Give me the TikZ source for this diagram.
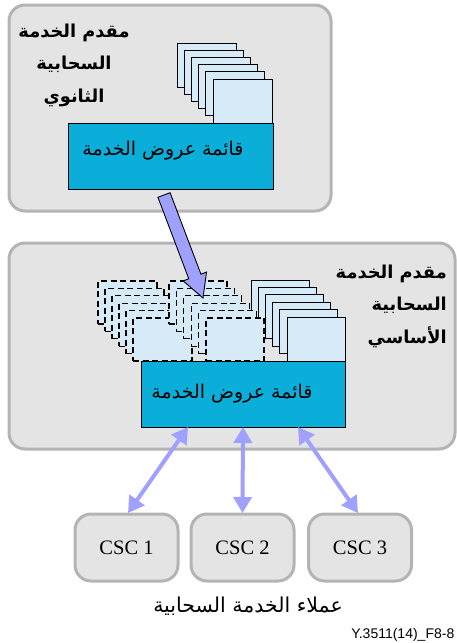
\documentclass[tikz,border=0pt]{standalone}
\usepackage{fontspec}
\setmainfont{Liberation Serif}
\newfontfamily\arabicfont[Script=Arabic]{DejaVu Sans}
\newfontfamily\codefont{Liberation Sans}
\TeXXeTstate=1
\usetikzlibrary{calc,arrows.meta}

\definecolor{panelfill}{HTML}{E4E4E4}
\definecolor{panelline}{HTML}{B4B4B4}
\definecolor{listblue}{HTML}{0BAED9}
\definecolor{pagefill}{HTML}{D6EAF8}
\definecolor{flowblue}{HTML}{A0A0FF}

\tikzset{
  panel/.style={draw=panelline, fill=panelfill, line width=3pt, rounded corners=16pt,
    inner sep=0pt, outer sep=0pt},
  listbox/.style={draw=black, fill=listblue, line width=1pt, inner sep=0pt, outer sep=0pt,
    minimum width=205pt, minimum height=66pt},
  page/.style={draw=black, fill=pagefill, line width=1pt, inner sep=0pt, outer sep=0pt,
    minimum width=59pt, minimum height=44pt, anchor=north west},
  ghostpage/.style={page, line width=1.3pt, dash pattern=on 6pt off 3.5pt, minimum height=43pt},
  client/.style={panel, minimum width=103pt, minimum height=67pt,
    font=\fontsize{20.5}{24}\selectfont},
  link/.style={draw=flowblue, line width=4pt,
    {Triangle[width=18pt,length=16pt]}-{Triangle[width=18pt,length=16pt]}},
  bigarrow/.style={draw=black, fill=flowblue, line width=0.9pt, line join=miter},
  arlabel/.style={font=\arabicfont\bfseries\fontsize{17.8}{32.5}\selectfont, inner sep=0pt},
  artext/.style={font=\arabicfont\fontsize{19}{22}\selectfont, inner sep=0pt}
}

\begin{document}
\begin{tikzpicture}[x=1pt, y=-1pt]
\useasboundingbox (0,0) rectangle (456,643);

% provider panels
\node[panel, minimum width=322pt, minimum height=206pt] (secpanel) at (170,108) {};
\node[panel, minimum width=446pt, minimum height=206pt] (prmpanel) at (232,346) {};

% secondary provider: offered services stack and list
\foreach \i in {0,...,5}
  \node[page] (tp\i) at ({177+7.2*\i},{43+7.2*\i}) {};
\node[listbox] (seclist) at (170.5,156) {};

% primary provider: own services
\foreach \i in {0,...,5}
  \node[page, minimum width=58pt] (bp\i) at ({251+7.2*\i},{280+7.4*\i}) {};
% services taken over from the secondary provider
\foreach \i in {0,...,5}
  \node[ghostpage] (ga\i) at ({98+7*\i},{281+7.4*\i}) {};
\foreach \i in {0,...,5}
  \node[ghostpage, minimum width=58pt] (gb\i) at ({169+7.4*\i},{281+7.4*\i}) {};
\node[listbox, minimum width=204pt] (prmlist) at (243,394) {};

% list captions
\node[artext] (seclisttext) at (163,151) {\beginR قائمة عروض الخدمة\endR};
\node[artext] (prmlisttext) at (232,394) {\beginR قائمة عروض الخدمة\endR};

% panel titles
\node[arlabel, align=center] (sectitle) at (74,65)
  {\beginR مقدم الخدمة\endR\\\beginR السحابية\endR\\\beginR الثانوي\endR};
\node[arlabel, align=right, anchor=east] (prmtitle) at (447,306)
  {\beginR مقدم الخدمة\endR\\\beginR السحابية\endR\\\beginR الأساسي\endR};

% broad arrow from the secondary list into the primary stack
\coordinate (atail) at ($(seclist.south)+(-6.5,6)$);
\coordinate (atip) at (203,298);
\coordinate (ahead) at ($(atip)!23pt!(atail)$);
\draw[bigarrow]
  ($(atail)!6.5pt!90:(atip)$) -- ($(ahead)!6.5pt!-90:(atail)$)
  -- ($(ahead)!12.5pt!-90:(atail)$) -- (atip)
  -- ($(ahead)!12.5pt!90:(atail)$) -- ($(ahead)!6.5pt!90:(atail)$)
  -- ($(atail)!6.5pt!-90:(atip)$) -- cycle;

% cloud service customers
\node[client] (csc1) at (126.5,547.5) {CSC 1};
\node[client] (csc2) at (242.5,547.5) {CSC 2};
\node[client] (csc3) at (360,547.5) {CSC 3};

\draw[link] ($(prmlist.south)+(-55,0)$) -- ($(csc1.north)+(1.5,-1)$);
\draw[link] (prmlist.south) -- ($(csc2.north)+(0,-1)$);
\draw[link] ($(prmlist.south)+(55,0)$) -- ($(csc3.north)+(-2,-1)$);

\node[artext, font=\arabicfont\fontsize{20.5}{24}\selectfont] (clients) at (248,606)
  {\beginR عملاء الخدمة السحابية\endR};

\node[font=\codefont\fontsize{14}{16}\selectfont, anchor=base east, inner sep=0pt]
  (figid) at (454.5,638) {Y.3511(14)\_F8-8};
\end{tikzpicture}
\end{document}
